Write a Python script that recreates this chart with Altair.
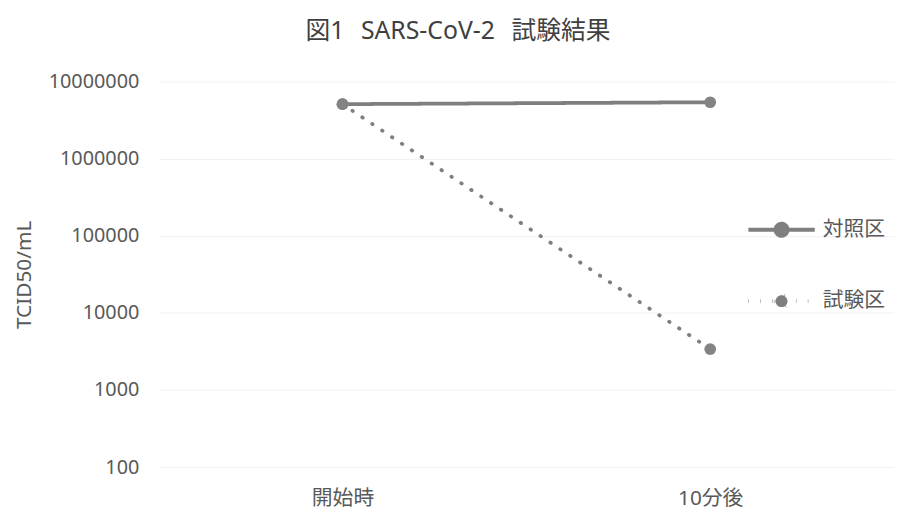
import altair as alt
import pandas as pd

categories = ["開始時", "10分後"]
series_names = ["対照区", "試験区"]
control_values = [5.1e6, 5.4e6]
test_values = [5.1e6, 3.4e3]
y_ticks = [100, 1000, 10000, 100000, 1000000, 10000000]

rows = []
for c, v in zip(categories, control_values):
    rows.append({"time": c, "series": series_names[0], "value": v})
for c, v in zip(categories, test_values):
    rows.append({"time": c, "series": series_names[1], "value": v})
df = pd.DataFrame(rows)

FONT = "Noto Sans, Noto Sans CJK JP, sans-serif"
TEXT = "#595959"
GRAY = "#7f7f7f"

x = alt.X(
    "time:N",
    sort=categories,
    scale=alt.Scale(type="point", padding=0.5),
    axis=alt.Axis(
        title=None, labelAngle=0, labelFontSize=21, labelColor=TEXT, labelFont=FONT,
        labelPadding=21, ticks=False, domain=False, grid=False,
    ),
)
y = alt.Y(
    "value:Q",
    scale=alt.Scale(type="log", domain=[100, 1e7]),
    axis=alt.Axis(
        values=y_ticks, format="d", title="TCID50/mL", titleFontSize=21,
        titleColor=TEXT, titleFont=FONT, titleFontWeight="normal", titlePadding=14,
        labelFontSize=20, labelColor=TEXT, labelFont=FONT, labelPadding=20,
        ticks=False, domain=False, gridColor="#f1f1f1", gridWidth=1,
    ),
)

legend_path = (
    "M-1,0L1,0"
    "M-0.18,0A0.18,0.18,0,1,1,0.18,0A0.18,0.18,0,1,1,-0.18,0Z"
)

line = alt.Chart(df).mark_line(strokeCap="round", color=GRAY, strokeWidth=3.8).encode(
    x=x,
    y=y,
    strokeDash=alt.StrokeDash(
        "series:N",
        sort=series_names,
        scale=alt.Scale(domain=series_names, range=[[1, 0], [0.5, 11.5]]),
        legend=alt.Legend(
            title=None, orient="none", legendX=593, legendY=114,
            symbolType=legend_path, symbolSize=4489, symbolStrokeWidth=4,
            symbolStrokeColor=GRAY, symbolFillColor=GRAY,
            labelFontSize=21, labelColor=TEXT, labelFont=FONT, labelOffset=6,
            rowPadding=22, padding=0,
        ),
    ),
)

points = alt.Chart(df).mark_point(filled=True, size=140, opacity=1, color="#838383").encode(
    x=x,
    y=y,
)

chart = (
    alt.layer(line, points)
    .properties(
        width=742,
        height=389,
        background="white",
        title=alt.TitleParams(
            "図1\u2002\u2009SARS-CoV-2\u2002\u2009試験結果",
            fontSize=25, color="#404040", font=FONT, fontWeight="normal",
            anchor="middle", dx=-69, baseline="alphabetic", offset=8,
        ),
        autosize=alt.AutoSizeParams(type="none"),
        padding={"left": 152, "top": 72, "right": 6, "bottom": 44},
    )
    .configure_view(stroke=None)
)

chart.save("out.html", embed_options={"renderer": "svg", "actions": False})
